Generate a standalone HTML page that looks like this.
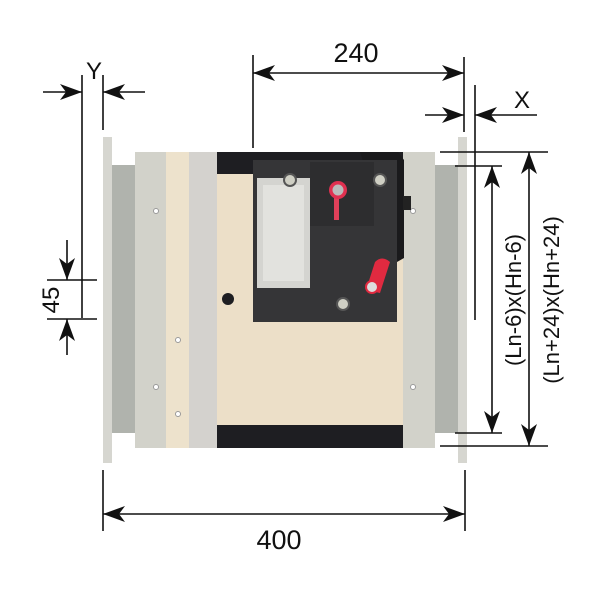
<!DOCTYPE html>
<html><head><meta charset="utf-8"><style>
html,body{margin:0;padding:0;background:#fff;width:600px;height:600px;overflow:hidden}
svg{display:block}
text{font-family:"Liberation Sans",sans-serif;fill:#111}
</style></head><body>
<svg width="600" height="600" viewBox="0 0 600 600" xmlns="http://www.w3.org/2000/svg">
<defs>
<marker id="a" viewBox="0 0 22 16" refX="22" refY="8" markerWidth="22" markerHeight="16" markerUnits="userSpaceOnUse" orient="auto-start-reverse"><path d="M0,0 L22,8 L0,16 L6,8 Z" fill="#111"/></marker>
</defs>
<rect x="103" y="137" width="9" height="326" fill="#d6d6d0"/>
<rect x="458" y="137" width="9" height="326" fill="#d6d6d0"/>
<rect x="112" y="165" width="23" height="268" fill="#b0b3ad"/>
<rect x="435" y="165" width="23" height="268" fill="#b0b3ad"/>
<rect x="135" y="152" width="31" height="296" fill="#d2d2ca"/>
<rect x="403" y="152" width="32" height="296" fill="#d2d2ca"/>
<rect x="166" y="152" width="23" height="296" fill="#ede2cc"/>
<rect x="189" y="152" width="28" height="296" fill="#d4d2ce"/>
<rect x="217" y="152" width="186" height="296" fill="#ecdfc8"/>
<rect x="217" y="152" width="186" height="22" fill="#1e1e22"/>
<rect x="217" y="425" width="186" height="23" fill="#1e1e22"/>
<g fill="#fff" stroke="#999" stroke-width="1">
<circle cx="156" cy="211" r="2.5"/><circle cx="156" cy="387" r="2.5"/>
<circle cx="413" cy="211" r="2.5"/><circle cx="413" cy="387" r="2.5"/>
<circle cx="178" cy="340" r="2.5"/><circle cx="178" cy="414" r="2.5"/>
</g>
<circle cx="228" cy="299" r="6" fill="#1e1e22"/>
<path d="M360,152 L398,152 L404,160 L404,258 L397,262 Z" fill="#1a1a1c"/>
<rect x="403" y="196" width="8" height="14" fill="#222"/>
<rect x="253" y="160" width="144" height="162" fill="#353537"/>
<rect x="310" y="162" width="64" height="64" fill="#2d2d2f"/>
<rect x="257" y="178" width="53" height="110" fill="#d4d4d0"/>
<rect x="263" y="185" width="41" height="96" fill="#e2e2de"/>
<g fill="#cfcfc4" stroke="#555" stroke-width="2">
<circle cx="290" cy="180" r="6"/><circle cx="380" cy="180" r="6"/><circle cx="343" cy="304" r="6"/>
</g>
<rect x="334" y="190" width="5" height="30" fill="#e0405a"/>
<circle cx="338" cy="190" r="9" fill="#e03050"/>
<circle cx="338" cy="190" r="5.5" fill="#bbb"/>
<path d="M366,290 L375,262 Q382,255 390,262 L380,293 Z" fill="#e02a40"/>
<circle cx="372" cy="287" r="6" fill="#ddd" stroke="#e02a40" stroke-width="2"/>
<g stroke="#111" stroke-width="1.6" fill="none">
<line x1="82" y1="75" x2="82" y2="318"/>
<line x1="103" y1="75" x2="103" y2="130"/>
<line x1="43" y1="92" x2="82" y2="92" marker-end="url(#a)"/>
<line x1="145" y1="92" x2="103" y2="92" marker-end="url(#a)"/>
<line x1="253" y1="55" x2="253" y2="148"/>
<line x1="464" y1="57" x2="464" y2="132"/>
<line x1="253" y1="73" x2="464" y2="73" marker-start="url(#a)" marker-end="url(#a)"/>
<line x1="475" y1="85" x2="475" y2="320"/>
<line x1="425" y1="115" x2="464" y2="115" marker-end="url(#a)"/>
<line x1="537" y1="115" x2="475" y2="115" marker-end="url(#a)"/>
<line x1="440" y1="152" x2="548" y2="152"/>
<line x1="455" y1="166" x2="502" y2="166"/>
<line x1="455" y1="433" x2="502" y2="433"/>
<line x1="440" y1="446" x2="548" y2="446"/>
<line x1="492" y1="166" x2="492" y2="433" marker-start="url(#a)" marker-end="url(#a)"/>
<line x1="529" y1="152" x2="529" y2="446" marker-start="url(#a)" marker-end="url(#a)"/>
<line x1="47" y1="280" x2="97" y2="280"/>
<line x1="47" y1="319" x2="97" y2="319"/>
<line x1="67" y1="240" x2="67" y2="280" marker-end="url(#a)"/>
<line x1="67" y1="355" x2="67" y2="319" marker-end="url(#a)"/>
<line x1="103" y1="470" x2="103" y2="531"/>
<line x1="465" y1="470" x2="465" y2="531"/>
<line x1="103" y1="514" x2="465" y2="514" marker-start="url(#a)" marker-end="url(#a)"/>
</g>
<text x="356" y="62" font-size="27" text-anchor="middle">240</text>
<text x="94" y="79" font-size="24" text-anchor="middle">Y</text>
<text x="522" y="108" font-size="24" text-anchor="middle">X</text>
<text x="279" y="549" font-size="27" text-anchor="middle">400</text>
<text transform="translate(59,300) rotate(-90)" font-size="24" text-anchor="middle">45</text>
<text transform="translate(521,300) rotate(-90)" font-size="22" text-anchor="middle">(Ln-6)x(Hn-6)</text>
<text transform="translate(559,300) rotate(-90)" font-size="22" text-anchor="middle">(Ln+24)x(Hn+24)</text>
</svg>
</body></html>
